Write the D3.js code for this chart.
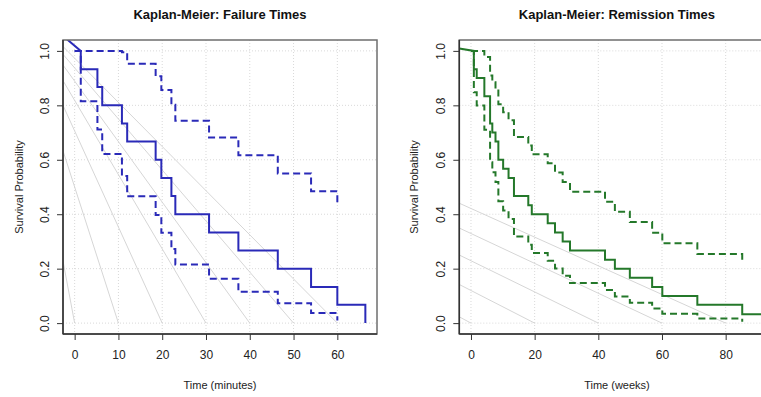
<!DOCTYPE html>
<html>
<head>
<meta charset="utf-8">
<script src="https://cdn.jsdelivr.net/npm/d3@7"></script>
<style>
  body { margin: 0; background: #fff; }
  svg { display: block; font-family: "Liberation Sans", Arial, sans-serif; }
</style>
</head>
<body>
<div id="chart"></div>
<script>
// Failure times (minutes), n = 15
const failTimes = [1.4, 5.2, 6.3, 10.8, 12.0, 18.5, 19.8, 22.1, 23.0, 30.7, 37.4, 46.4, 54.0, 60.0, 66.4];
const failSurv  = [0.933, 0.867, 0.8, 0.733, 0.667, 0.6, 0.533, 0.467, 0.4, 0.333, 0.267, 0.2, 0.133, 0.067, 0];
const failUpper = [1, 1, 1, 0.995, 0.953, 0.907, 0.856, 0.802, 0.743, 0.682, 0.617, 0.55, 0.484, 0.443];
const failLower = [0.815, 0.711, 0.621, 0.54, 0.466, 0.397, 0.332, 0.272, 0.215, 0.163, 0.115, 0.073, 0.037, 0.01];
const failStart = [-2.66, 1.055];

// Remission times (weeks), n = 30
const remTimes = [0.9, 1.8, 4.2, 6.0, 6.7, 7.7, 8.6, 10.1, 11.8, 13.5, 18.0, 19.1, 24.1, 26.4, 28.8, 31.1, 42.1, 45.2, 49.9, 56.9, 60.1, 71.1, 85.2, 91.7];
const remSurv  = [0.933, 0.9, 0.833, 0.733, 0.7, 0.667, 0.6, 0.567, 0.533, 0.467, 0.433, 0.4, 0.367, 0.333, 0.3, 0.267, 0.233, 0.2, 0.167, 0.133, 0.1, 0.067, 0.033, 0];
const remUpper = [1, 1, 0.978, 0.91, 0.885, 0.859, 0.804, 0.775, 0.745, 0.684, 0.652, 0.62, 0.587, 0.553, 0.518, 0.483, 0.446, 0.409, 0.371, 0.332, 0.293, 0.254, 0.229];
const remLower = [0.848, 0.799, 0.71, 0.591, 0.554, 0.518, 0.448, 0.414, 0.382, 0.318, 0.288, 0.258, 0.229, 0.201, 0.174, 0.147, 0.122, 0.098, 0.075, 0.054, 0.034, 0.017, 0.005];
const remStart = [-3.67, 1.009];

// tick labels
const yTicks = [0, 0.2, 0.4, 0.6, 0.8, 1.0];
const failXTicks = [0, 10, 20, 30, 40, 50, 60];
const remXTicks = [0, 20, 40, 60, 80];

// light reference lines: fan from an apex down to each x tick
const failRefEnds = [0, 10, 20, 30, 40, 50, 60];
const failRefApex = [-14, 1.2];
const remRefEnds = [0, 20, 40, 60, 80];
const remRefApex = [-414, 2.6];

const W = 761, H = 397;
const svg = d3.select('#chart').append('svg').attr('width', W).attr('height', H);

function stepPoints(start, times, vals) {
  const pts = start ? [start] : [[0, 1]];
  let prev = 1;
  times.forEach((t, i) => {
    if (i >= vals.length) return;
    pts.push([t, prev]);
    pts.push([t, vals[i]]);
    prev = vals[i];
  });
  return pts;
}

function drawPanel(o) {
  const x = d3.scaleLinear().domain(o.xDomain).range(o.xRange);
  const y = d3.scaleLinear().domain([-0.04, 1.04]).range([334, 40]);
  const left = o.xRange[0], right = o.xRange[1];
  const top = 40, bottom = 334;

  const clipId = 'clip-' + o.id;
  svg.append('clipPath').attr('id', clipId)
    .append('rect').attr('x', left).attr('y', top)
    .attr('width', right - left).attr('height', bottom - top);

  const g = svg.append('g');
  const plot = g.append('g').attr('clip-path', `url(#${clipId})`);

  // grid
  plot.selectAll('.gx').data(o.xTicks).enter().append('line')
    .attr('x1', d => x(d)).attr('x2', d => x(d))
    .attr('y1', top).attr('y2', bottom)
    .attr('stroke', '#d9d9d9').attr('stroke-width', 1).attr('stroke-dasharray', '1,2');
  plot.selectAll('.gy').data(yTicks).enter().append('line')
    .attr('x1', left).attr('x2', right)
    .attr('y1', d => y(d)).attr('y2', d => y(d))
    .attr('stroke', '#d9d9d9').attr('stroke-width', 1).attr('stroke-dasharray', '1,2');

  // reference fan lines
  plot.selectAll('.ref').data(o.refEnds).enter().append('line')
    .attr('x1', x(o.refApex[0])).attr('y1', y(o.refApex[1]))
    .attr('x2', d => x(d)).attr('y2', y(0))
    .attr('stroke', '#d6d6d6').attr('stroke-width', 1);

  const line = d3.line().x(d => x(d[0])).y(d => y(d[1]));

  // confidence bands
  [o.upper, o.lower].forEach(vals => {
    plot.append('path')
      .attr('d', line(stepPoints(null, o.times, vals)))
      .attr('fill', 'none').attr('stroke', o.color)
      .attr('stroke-width', 2).attr('stroke-dasharray', '7,4');
  });

  // survival curve
  plot.append('path')
    .attr('d', line(stepPoints(o.start, o.times, o.surv)))
    .attr('fill', 'none').attr('stroke', o.color).attr('stroke-width', 2);

  // box
  g.append('rect').attr('x', left).attr('y', top)
    .attr('width', right - left).attr('height', bottom - top)
    .attr('fill', 'none').attr('stroke', '#6e6e6e').attr('stroke-width', 1.5);
  g.append('line').attr('x1', left).attr('x2', left).attr('y1', top).attr('y2', bottom)
    .attr('stroke', '#333').attr('stroke-width', 1.5);
  g.append('line').attr('x1', left).attr('x2', right).attr('y1', bottom).attr('y2', bottom)
    .attr('stroke', '#333').attr('stroke-width', 1.5);

  // axes
  const xAxis = g.append('g').attr('transform', `translate(0,${bottom})`)
    .call(d3.axisBottom(x).tickValues(o.xTicks).tickFormat(d3.format('d')).tickSize(6).tickPadding(10));
  xAxis.select('.domain').remove();
  xAxis.selectAll('line').attr('stroke', '#333');
  xAxis.selectAll('text').attr('font-size', 12).attr('fill', '#222');

  const yAxis = g.append('g').attr('transform', `translate(${left},0)`)
    .call(d3.axisLeft(y).tickValues(yTicks).tickFormat(d3.format('.1f')).tickSize(6));
  yAxis.select('.domain').remove();
  yAxis.selectAll('line').attr('stroke', '#333');
  yAxis.selectAll('text')
    .attr('font-size', 12).attr('fill', '#222')
    .attr('x', null).attr('dy', null)
    .attr('text-anchor', 'middle')
    .attr('transform', `translate(${-(left - o.yLabelX)},0) rotate(-90)`);

  // titles
  const cx = (left + right) / 2;
  svg.append('text').attr('x', cx).attr('y', 19)
    .attr('text-anchor', 'middle').attr('font-size', 13).attr('font-weight', 'bold')
    .attr('fill', '#111').text(o.title);
  svg.append('text').attr('x', cx).attr('y', 389)
    .attr('text-anchor', 'middle').attr('font-size', 11).attr('fill', '#222')
    .text(o.xTitle);
  svg.append('text')
    .attr('transform', `translate(${o.yTitleX},${(top + bottom) / 2}) rotate(-90)`)
    .attr('text-anchor', 'middle').attr('font-size', 11).attr('fill', '#222')
    .text('Survival Probability');
}

drawPanel({
  id: 'fail', title: 'Kaplan-Meier: Failure Times', xTitle: 'Time (minutes)',
  xDomain: [-2.66, 69.06], xRange: [63, 377],
  xTicks: failXTicks, times: failTimes, surv: failSurv, upper: failUpper, lower: failLower,
  start: failStart, refEnds: failRefEnds, refApex: failRefApex,
  color: '#2a2ab8', yLabelX: 48.5, yTitleX: 22.5
});

drawPanel({
  id: 'rem', title: 'Kaplan-Meier: Remission Times', xTitle: 'Time (weeks)',
  xDomain: [-3.67, 95.37], xRange: [459.3, 774.6],
  xTicks: remXTicks, times: remTimes, surv: remSurv, upper: remUpper, lower: remLower,
  start: remStart, refEnds: remRefEnds, refApex: remRefApex,
  color: '#24782a', yLabelX: 444.5, yTitleX: 417.5
});
</script>
</body>
</html>
